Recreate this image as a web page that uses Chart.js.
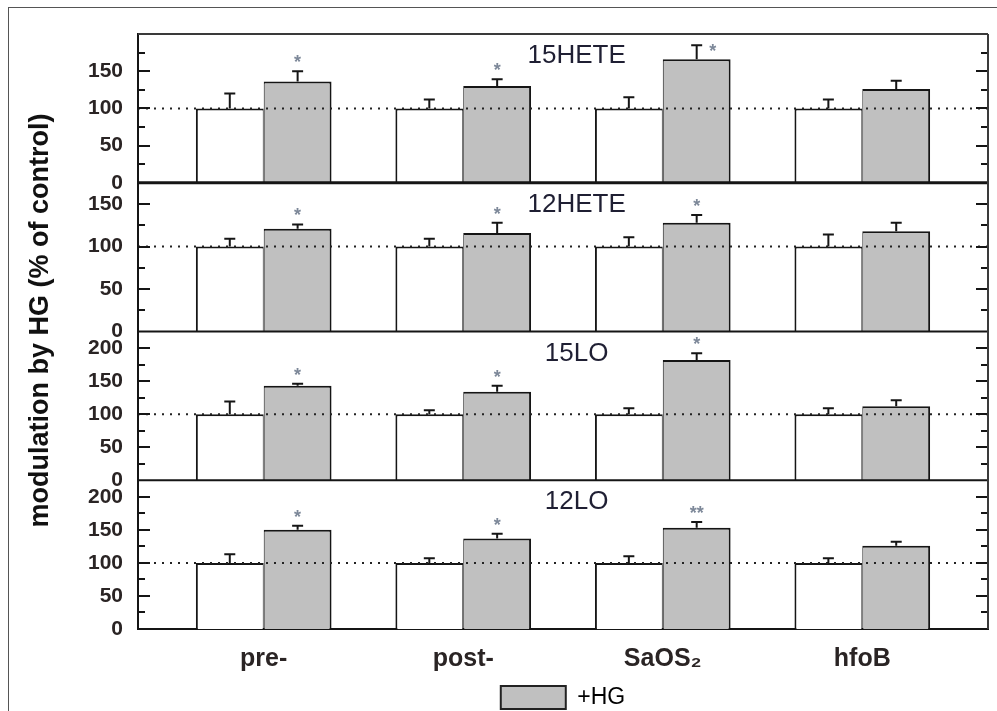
<!DOCTYPE html>
<html>
<head>
<meta charset="utf-8">
<title>modulation by HG</title>
<script src="https://cdn.jsdelivr.net/npm/chart.js@4.4.1/dist/chart.umd.min.js"></script>
<style>
  html, body { margin: 0; padding: 0; background: #fff; }
  #wrap { position: relative; width: 997px; height: 711px; overflow: hidden; }
  #frame { position: absolute; left: 8px; top: 7px; width: 1200px; height: 1000px;
           border-left: 1px solid #555; border-top: 1px solid #555; }
  canvas { position: absolute; left: 0; top: 0; }
</style>
</head>
<body>
<div id="wrap">
  <div id="frame"></div>
  <canvas id="chart" width="997" height="711"></canvas>
</div>
<script>
// ---- data ----
const categories = ['pre-', 'post-', 'SaOS₂', 'hfoB'];
const seriesNames = ['control', '+HG'];
const axisTitle = 'modulation by HG (% of control)';
const panelTitles = ['15HETE', '12HETE', '15LO', '12LO'];
const panelMax = [200, 175, 225, 225];
const panelTickValues = [
  [0, 50, 100, 150],
  [0, 50, 100, 150],
  [0, 50, 100, 150, 200],
  [0, 50, 100, 150, 200]
];
const minorStep = 25;
const majorStep = 50;
const referenceLevel = 100;

const control15HETE = [100, 100, 100, 100];
const controlErr15HETE = [20, 12, 15, 12];
const hg15HETE = [136, 130, 166, 126];
const hgErr15HETE = [14, 9, 19, 11];
const stars15HETE = ['*', '*', '*', ''];

const control12HETE = [100, 100, 100, 100];
const controlErr12HETE = [9, 9, 11, 14];
const hg12HETE = [121, 116, 128, 118];
const hgErr12HETE = [5, 12, 9, 10];
const stars12HETE = ['*', '*', '*', ''];

const control15LO = [100, 100, 100, 100];
const controlErr15LO = [19, 6, 9, 9];
const hg15LO = [143, 134, 182, 112];
const hgErr15LO = [3, 9, 10, 9];
const stars15LO = ['*', '*', '*', ''];

const control12LO = [100, 100, 100, 100];
const controlErr12LO = [13, 7, 10, 7];
const hg12LO = [150, 137, 153, 126];
const hgErr12LO = [6, 7, 9, 6];
const stars12LO = ['*', '*', '**', ''];

// ---- assemble panels ----
const panels = [
  { ctrl: control15HETE, ctrlErr: controlErr15HETE, hg: hg15HETE, hgErr: hgErr15HETE, stars: stars15HETE },
  { ctrl: control12HETE, ctrlErr: controlErr12HETE, hg: hg12HETE, hgErr: hgErr12HETE, stars: stars12HETE },
  { ctrl: control15LO,   ctrlErr: controlErr15LO,   hg: hg15LO,   hgErr: hgErr15LO,   stars: stars15LO },
  { ctrl: control12LO,   ctrlErr: controlErr12LO,   hg: hg12LO,   hgErr: hgErr12LO,   stars: stars12LO }
].map((p, i) => Object.assign(p, { axis: 'y' + i, title: panelTitles[i], max: panelMax[i], ticks: panelTickValues[i] }));

const FONT = '"Liberation Sans", Arial, sans-serif';
const INK = '#151515';
const GREY_FILL = '#c0c0c0';
const toPoints = vals => vals.map((v, j) => ({ x: j + 1, y: v }));

const datasets = [];
panels.forEach(p => {
  datasets.push({
    label: seriesNames[0], data: toPoints(p.ctrl), yAxisID: p.axis, stack: 'ctrl',
    backgroundColor: '#ffffff', borderColor: INK,
    borderWidth: { top: 2, left: 2, right: 1, bottom: 0 }
  });
  datasets.push({
    label: seriesNames[1], data: toPoints(p.hg), yAxisID: p.axis, stack: 'hg',
    backgroundColor: GREY_FILL, borderColor: INK,
    borderWidth: { top: 2, left: 1, right: 2, bottom: 0 }
  });
});

// ---- scales ----
const scales = {
  x: {
    type: 'linear', min: 0.37, max: 4.63, offset: false,
    grid: { display: false, offset: false },
    border: { display: true, color: INK, width: 2 },
    afterBuildTicks: s => { s.ticks = categories.map((c, i) => ({ value: i + 1 })); },
    afterFit: s => { s.height = 55; },
    ticks: {
      autoSkip: false, maxRotation: 0, padding: 7, color: '#2a2424',
      font: { family: FONT, size: 25, weight: 'bold' },
      callback: v => categories[Math.round(v) - 1] || ''
    }
  }
};
panels.forEach((p, i) => {
  scales[p.axis] = {
    type: 'linear', position: 'left', stack: 'panels', stackWeight: 1,
    weight: panels.length - i, stacked: false,
    min: 0, max: p.max,
    grid: { display: false, drawTicks: false },
    border: { display: true, color: INK, width: 2 },
    afterBuildTicks: s => { s.ticks = p.ticks.map(v => ({ value: v })); },
    afterFit: s => { s.width = 138; },
    ticks: {
      autoSkip: false, padding: 15, color: '#2a2424',
      font: { family: FONT, size: 21, weight: 'bold' }
    }
  };
});

// ---- drawing of frame ticks, reference lines, error bars, stars and labels ----
const decorPlugin = {
  id: 'panelDecor',
  afterDatasetsDraw(chart) {
    const ctx = chart.ctx;
    const { left, right, top, bottom } = chart.chartArea;
    ctx.save();

    panels.forEach((p, i) => {
      const ys = chart.scales[p.axis];
      const pTop = ys.getPixelForValue(p.max);
      const pBottom = ys.getPixelForValue(0);

      // dotted 100 % line
      const yRef = ys.getPixelForValue(referenceLevel);
      ctx.setLineDash([2, 6]);
      ctx.lineWidth = 2;
      ctx.strokeStyle = '#222';
      ctx.beginPath(); ctx.moveTo(left, yRef); ctx.lineTo(right, yRef); ctx.stroke();
      ctx.setLineDash([]);

      // inward tick marks on both sides
      ctx.strokeStyle = INK;
      ctx.lineWidth = 2;
      for (let v = minorStep; v < p.max; v += minorStep) {
        const y = Math.round(ys.getPixelForValue(v));
        const len = v % majorStep === 0 ? 12 : 7;
        ctx.beginPath();
        ctx.moveTo(left, y); ctx.lineTo(left + len, y);
        ctx.moveTo(right, y); ctx.lineTo(right - len, y);
        ctx.stroke();
      }

      // panel separator
      if (i < panels.length - 1) {
        ctx.lineWidth = i === 0 ? 3 : 2;
        ctx.beginPath(); ctx.moveTo(left, pBottom); ctx.lineTo(right, pBottom); ctx.stroke();
      }

      // error bars and significance marks
      const groups = [
        { meta: chart.getDatasetMeta(2 * i), vals: p.ctrl, errs: p.ctrlErr, stars: null },
        { meta: chart.getDatasetMeta(2 * i + 1), vals: p.hg, errs: p.hgErr, stars: p.stars }
      ];
      groups.forEach(g => {
        g.meta.data.forEach((bar, j) => {
          const yTop = ys.getPixelForValue(g.vals[j] + g.errs[j]);
          ctx.strokeStyle = INK;
          ctx.lineWidth = 2;
          ctx.beginPath();
          ctx.moveTo(bar.x, bar.y); ctx.lineTo(bar.x, yTop);
          ctx.moveTo(bar.x - 5.5, yTop); ctx.lineTo(bar.x + 5.5, yTop);
          ctx.stroke();

          if (g.stars && g.stars[j]) {
            let sx = bar.x, sy = yTop - 12;
            if (sy - 6 < pTop) { sx = bar.x + 16; sy = yTop + 3; }
            ctx.fillStyle = '#7d8899';
            ctx.font = 'bold 18px ' + FONT;
            ctx.textAlign = 'center';
            ctx.textBaseline = 'middle';
            ctx.fillText(g.stars[j], sx, sy + 4);
          }
        });
      });

      // panel name
      ctx.fillStyle = '#1f1f33';
      ctx.font = '26px ' + FONT;
      ctx.textAlign = 'center';
      ctx.textBaseline = 'middle';
      ctx.fillText(p.title, left + (right - left) * 0.516, pTop + 22);
    });

    // top and right frame
    ctx.strokeStyle = '#3a3a3a';
    ctx.lineWidth = 2;
    ctx.beginPath();
    ctx.moveTo(left, top); ctx.lineTo(right, top);
    ctx.moveTo(right, top); ctx.lineTo(right, bottom);
    ctx.stroke();

    // shared value-axis title
    ctx.save();
    ctx.translate(41, (top + bottom) / 2 - 11);
    ctx.rotate(-Math.PI / 2);
    ctx.fillStyle = '#111';
    ctx.font = 'bold 27px ' + FONT;
    ctx.textAlign = 'center';
    ctx.textBaseline = 'middle';
    ctx.fillText(axisTitle, 0, 0);
    ctx.restore();

    ctx.restore();
  }
};

new Chart(document.getElementById('chart'), {
  type: 'bar',
  data: { datasets },
  options: {
    responsive: false,
    devicePixelRatio: 1,
    animation: false,
    categoryPercentage: 0.68,
    barPercentage: 1.0,
    layout: { padding: { top: 34, right: 9, bottom: -8, left: 0 } },
    scales,
    plugins: {
      tooltip: { enabled: false },
      legend: {
        display: true,
        position: 'bottom',
        fullSize: false,
        onClick: null,
        labels: {
          boxWidth: 65, boxHeight: 23, padding: 2, color: '#222',
          font: { family: FONT, size: 23 },
          generateLabels: () => [{
            text: seriesNames[1], fillStyle: GREY_FILL, strokeStyle: '#222',
            lineWidth: 2, hidden: false, datasetIndex: 1
          }]
        }
      }
    }
  },
  plugins: [decorPlugin]
});
</script>
</body>
</html>
